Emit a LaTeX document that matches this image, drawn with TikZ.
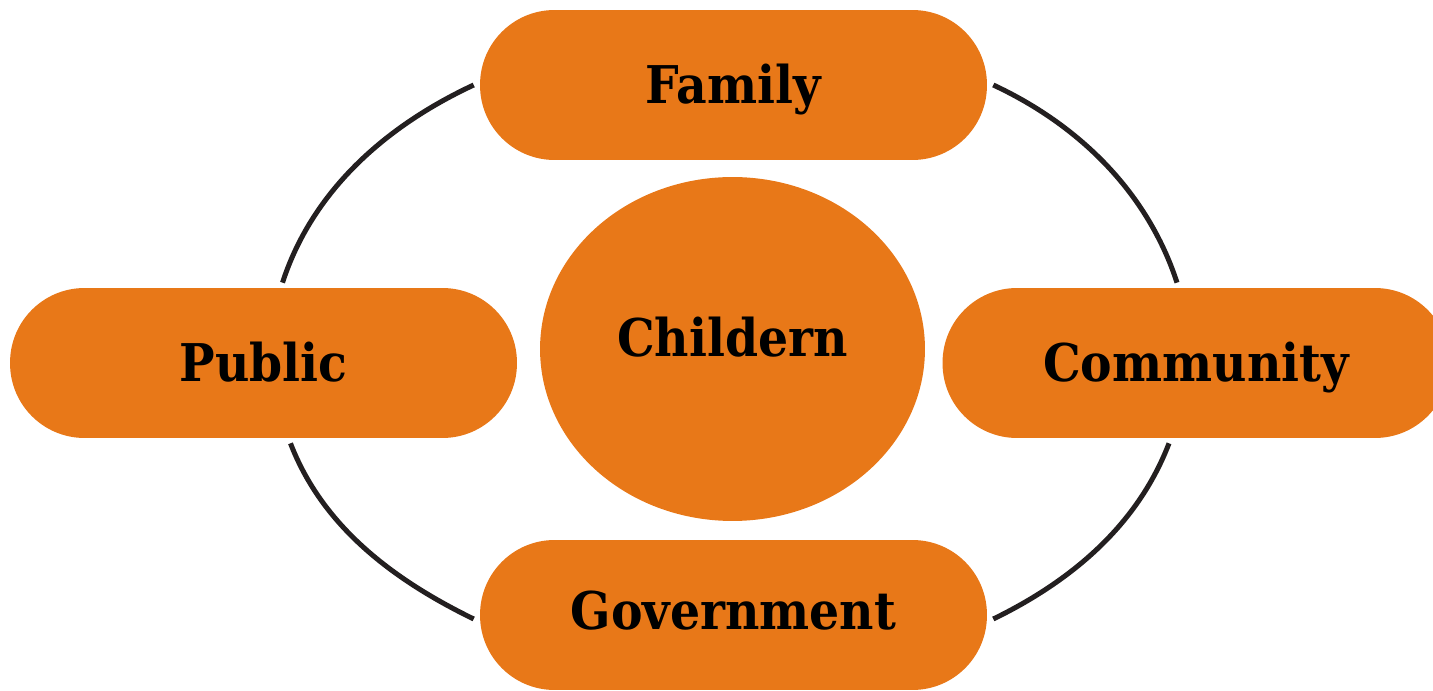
\documentclass[tikz,border=0pt]{standalone}
\usepackage{fontspec}
\newfontfamily\labelfont[FakeStretch=0.91]{DejaVu Serif}
\usetikzlibrary{shapes.geometric}
\definecolor{accent}{RGB}{232,120,24}
\definecolor{ringline}{RGB}{35,31,32}

\begin{document}
\begin{tikzpicture}[
  x = 0.02cm,
  y = 0.02cm,
  pill/.style = {
    rectangle,
    rounded corners = 1.49cm,
    fill = accent,
    minimum width = 10.14cm,
    minimum height = 3cm,
    inner sep = 0pt,
    font = \labelfont\bfseries\fontsize{29.6}{34}\selectfont,
    text height = 0.76cm,
    text depth = 0pt,
  },
  core/.style = {
    ellipse,
    fill = accent,
    minimum width = 7.7cm,
    minimum height = 6.88cm,
    inner sep = 0pt,
    font = \labelfont\bfseries\fontsize{29.6}{34}\selectfont,
    text height = 0.76cm,
    text depth = 0.44cm,
  },
  ring/.style = {
    draw = ringline,
    line width = 0.1cm,
    looseness = 0.9,
  },
]

  \useasboundingbox (0,0) rectangle (1433,690);

  \node[core] (child) at (732.5,341) {Childern};

  \node[pill] (family) at (733.5,605) {Family};
  \node[pill] (public) at (263.5,327) {Public};
  \node[pill] (community) at (1196,327) {Community};
  \node[pill,text depth=0.16cm] (government) at (733.5,75) {Government};

  % outer ring between the four boxes
  \draw[ring] ([shift={(-6,0)}]family.west) to[out=205,in=72] ([shift={(19,5)}]public.north);
  \draw[ring] ([shift={(6,0)}]family.east) to[out=335,in=108] ([shift={(-19,5)}]community.north);
  \draw[ring] ([shift={(27,-5)}]public.south) to[out=291,in=154] ([shift={(-6,-4)}]government.west);
  \draw[ring] ([shift={(-27,-5)}]community.south) to[out=249,in=26] ([shift={(6,-4)}]government.east);

\end{tikzpicture}
\end{document}
